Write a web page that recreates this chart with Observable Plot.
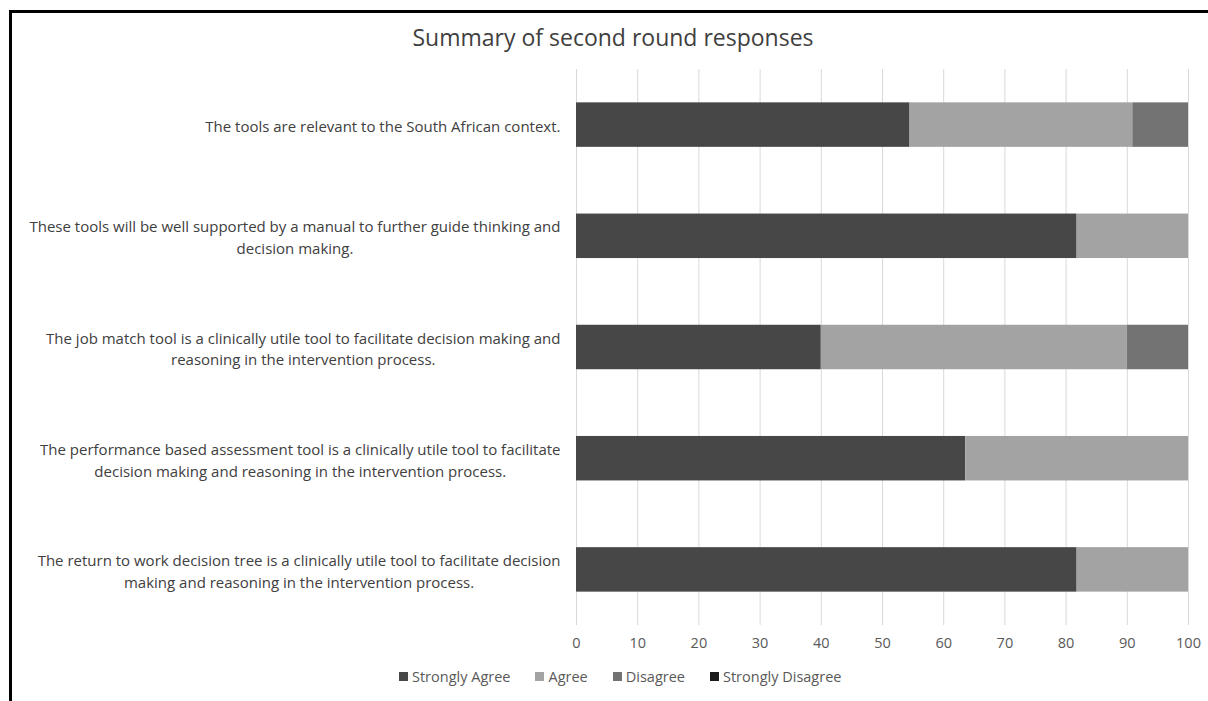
<!DOCTYPE html>
<html><head><meta charset="utf-8">
<script src="https://cdn.jsdelivr.net/npm/d3@7"></script>
<script src="https://cdn.jsdelivr.net/npm/@observablehq/plot@0.6"></script>
<style>
body{margin:0;background:#fff;font-family:"Open Sans",Lato,sans-serif;}
#wrap{position:relative;width:1208px;height:701px;overflow:hidden;background:#fff;}
#frame{position:absolute;left:9px;top:10px;width:1400px;height:900px;border-left:3px solid #000;border-top:3px solid #000;pointer-events:none;}
#title{position:absolute;left:9px;top:22px;width:1208px;text-align:center;font-size:23px;color:#404040;line-height:30px;}
#chart{position:absolute;left:0;top:0;}
#legend{position:absolute;left:399px;top:666px;}
.lg-swatches{font-family:"Open Sans",sans-serif !important;font-size:14.5px !important;color:#595959 !important;min-height:20px !important;}
.lg-swatch{margin-right:25px !important;}
.lg-swatch > svg{margin-right:4px !important;}
</style>
</head><body>
<div id="wrap">
  <div id="title">Summary of second round responses</div>
  <div id="chart"></div>
  <div id="legend"></div>
  <div id="frame"></div>
</div>
<script>
const statements = [
  "The tools are relevant to the South African context.",
  "These tools will be well supported by a manual to further guide thinking and\ndecision making.",
  "The job match tool is a clinically utile tool to facilitate decision making and\nreasoning in the intervention process.",
  "The performance based assessment tool is a clinically utile tool to facilitate\ndecision making and reasoning in the intervention process.",
  "The return to work decision tree is a clinically utile tool to facilitate decision\nmaking and reasoning in the intervention process."
];
const categories = ["Strongly Agree", "Agree", "Disagree", "Strongly Disagree"];
const colors = ["#474747", "#a3a3a3", "#737373", "#1a1a1a"];
const stronglyAgree = [54.5, 81.8, 40, 63.6, 81.8];
const agree = [36.4, 18.2, 50, 36.4, 18.2];
const disagree = [9.1, 0, 10, 0, 0];
const stronglyDisagree = [0, 0, 0, 0, 0];
const xTicks = [0, 10, 20, 30, 40, 50, 60, 70, 80, 90, 100];

const series = [stronglyAgree, agree, disagree, stronglyDisagree];
const rows = [];
statements.forEach((s, i) => {
  categories.forEach((c, j) => {
    rows.push({statement: s, category: c, value: series[j][i]});
  });
});

const chart = Plot.plot({
  width: 1208,
  height: 655,
  marginLeft: 576,
  marginRight: 20,
  marginTop: 69,
  marginBottom: 30,
  style: {fontFamily: "'Open Sans', sans-serif", color: "#595959", background: "transparent", overflow: "visible"},
  x: {domain: [0, 100]},
  y: {domain: statements, paddingInner: 0.6, paddingOuter: 0.3, round: false},
  color: {domain: categories, range: colors},
  marks: [
    Plot.gridX(xTicks, {stroke: "#d9d9d9", strokeOpacity: 1, strokeWidth: 1}),
    Plot.barX(rows, Plot.stackX({x: "value", y: "statement", fill: "category", order: categories})),
    Plot.axisX(xTicks, {tickSize: 0, tickPadding: 12, fontSize: 14.5, label: null, fill: "#595959"}),
    Plot.axisY({tickSize: 0, tickPadding: 16, fontSize: 15, lineHeight: 1.45, label: null, fill: "#404040"})
  ]
});
document.getElementById("chart").appendChild(chart);

// center the lines of each multi-line y label within its right-aligned block
chart.querySelectorAll('g[aria-label="y-axis tick label"] text').forEach(t => {
  const spans = t.querySelectorAll("tspan");
  if (spans.length < 2) return;
  let w = 0;
  spans.forEach(s => { w = Math.max(w, s.getComputedTextLength()); });
  t.setAttribute("text-anchor", "middle");
  spans.forEach(s => s.setAttribute("x", -w / 2));
});

const legend = Plot.legend({
  color: {domain: categories, range: colors},
  legend: "swatches",
  swatchSize: 9,
  className: "lg"
});
document.getElementById("legend").appendChild(legend);
</script>
</body></html>
